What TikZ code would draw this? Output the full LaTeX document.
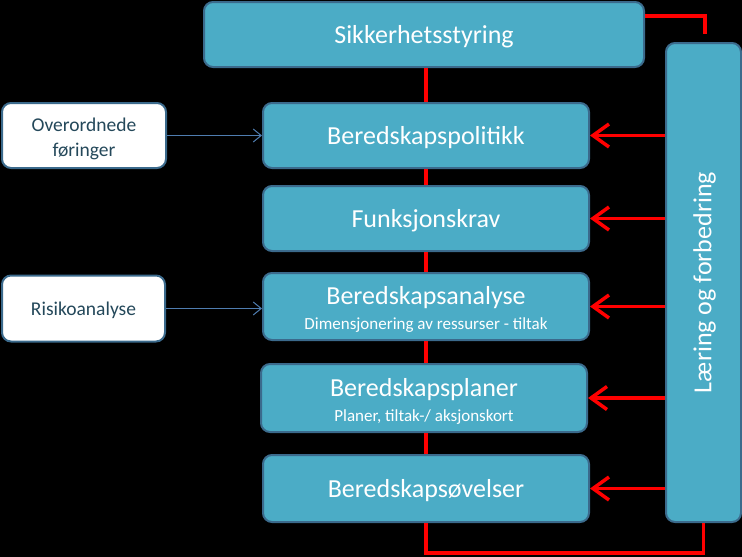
\documentclass[tikz,border=0pt]{standalone}
\usepackage{fontspec}
\setmainfont{Carlito}
\usetikzlibrary{arrows.meta}
\definecolor{boxfill}{HTML}{4BACC6}
\definecolor{boxline}{HTML}{3B6A8C}
\definecolor{darktext}{HTML}{24485A}
\definecolor{linkred}{HTML}{FF0000}
\definecolor{linkblue}{HTML}{4F7DB0}
\tikzset{
  tealbox/.style={draw=boxline, line width=2pt, fill=boxfill, rounded corners=9pt, inner sep=0pt},
  whitebox/.style={draw=boxline, line width=2pt, fill=white, rounded corners=9pt, inner sep=0pt},
  bigtext/.style={text=white, align=center, inner sep=0pt, font=\fontsize{26}{30}\selectfont},
  smalltext/.style={text=darktext, align=center, inner sep=0pt, font=\fontsize{19.5}{25}\selectfont},
  redline/.style={draw=linkred, line width=3.5pt},
  redarrow/.style={redline, -{Straight Barb[length=16pt,width=23pt,line width=3.5pt]}},
  bluearrow/.style={draw=linkblue, line width=1pt, -{Straight Barb[length=8pt,width=13pt,line width=1pt]}}
}
\begin{document}
\begin{tikzpicture}[x=1pt,y=-1pt]
\fill[black] (0,0) rectangle (742,557);
\useasboundingbox (0,0) rectangle (742,557);
% central boxes
\node[tealbox, minimum width=440pt, minimum height=65pt] (sik) at (424,34.5) {};
\node[bigtext] (sikt) at ([yshift=-2.5pt]sik.center) {Sikkerhetsstyring};
\node[tealbox, minimum width=326pt, minimum height=65pt] (pol) at (426,135.5) {};
\node[bigtext] (polt) at ([yshift=-2.5pt]pol.center) {Beredskapspolitikk};
\node[tealbox, minimum width=326pt, minimum height=65pt] (fun) at (426,218.5) {};
\node[bigtext] (funt) at ([yshift=-2.5pt]fun.center) {Funksjonskrav};
\node[tealbox, minimum width=326pt, minimum height=67pt] (ana) at (426,306.5) {};
\node[bigtext] (anat) at ([yshift=-3pt]ana.center)
  {Beredskapsanalyse\\[-5pt]{\fontsize{17}{20}\selectfont Dimensjonering av ressurser - tiltak}};
\node[tealbox, minimum width=326pt, minimum height=68pt] (pla) at (424,398) {};
\node[bigtext] (plat) at ([yshift=-3pt]pla.center)
  {Beredskapsplaner\\[-5pt]{\fontsize{17}{20}\selectfont Planer, tiltak-/ aksjonskort}};
\node[tealbox, minimum width=326pt, minimum height=67pt] (ove) at (426,488.5) {};
\node[bigtext] (ovet) at ([yshift=-2.5pt]ove.center) {Beredskapsøvelser};
% left boxes
\node[whitebox, minimum width=164pt, minimum height=65pt] (ovr) at (84,135.5) {};
\node[smalltext] (ovrt) at ([yshift=-3pt]ovr.center) {Overordnede\\føringer};
\node[whitebox, minimum width=163pt, minimum height=66pt] (ris) at (83.5,308.5) {};
\node[smalltext] (rist) at ([yshift=-2pt]ris.center) {Risikoanalyse};
% right box
\node[tealbox, minimum width=75pt, minimum height=479pt] (lar) at (703.5,282.5) {};
\node[bigtext, rotate=90] (lart) at ([xshift=1pt]lar.center) {Læring og forbedring};
% red spine
\draw[redline] (pol.north) -- (pol.north |- sik.south);
\draw[redline] (fun.north) -- (fun.north |- pol.south);
\draw[redline] (ana.north) -- (ana.north |- fun.south);
\draw[redline] ([xshift=2pt]pla.north) -- ([xshift=2pt]pla.north |- ana.south);
\draw[redline] ([xshift=2pt]pla.south) -- ([xshift=2pt]pla.south |- ove.north);
% top right connector
\coordinate (tr) at (705,34);
\draw[redline] ([yshift=-15pt]sik.north east) -| (tr);
% bottom connector
\draw[redline] (ove.south) -- ++(0,30) -| (lar.south);
% feedback arrows
\draw[redarrow] (lar.west |- pol.east) -- (pol.east);
\draw[redarrow] (lar.west |- fun.east) -- (fun.east);
\draw[redarrow] (lar.west |- ana.east) -- (ana.east);
\draw[redarrow] (lar.west |- pla.east) -- (pla.east);
\draw[redarrow] (lar.west |- ove.east) -- (ove.east);
% blue inputs
\draw[bluearrow] (ovr.east) -- (pol.west);
\draw[bluearrow] (ris.east) -- (ana.west |- ris.east);
\end{tikzpicture}
\end{document}
